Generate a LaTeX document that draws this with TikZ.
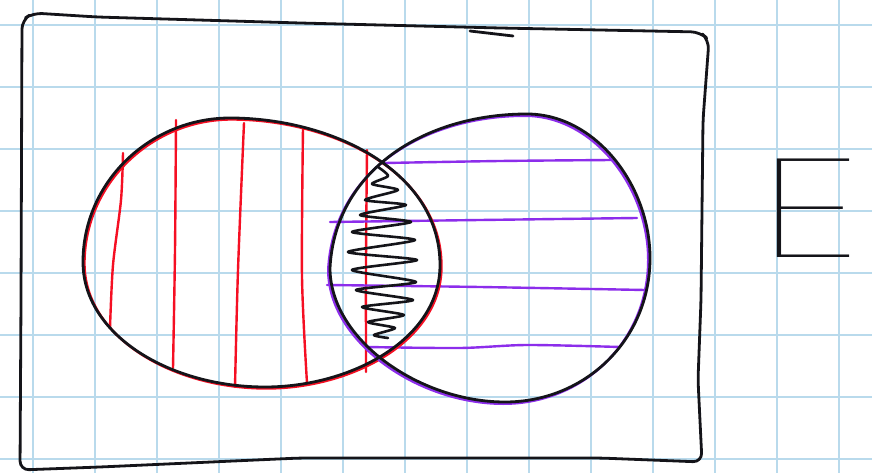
\documentclass[tikz,border=0pt]{standalone}
\usepackage{fontspec}
\newfontfamily\efont{Poppins Thin}
\definecolor{gridblue}{RGB}{185,218,236}
\definecolor{penred}{RGB}{245,15,35}
\definecolor{penpurple}{RGB}{140,45,235}
\definecolor{ink}{RGB}{20,20,25}
\tikzset{
  gridline/.style={draw=gridblue, line width=2.6pt},
  inkline/.style={draw=ink, line width=2.8pt},
  redpen/.style={draw=penred, line width=2.4pt},
  purplepen/.style={draw=penpurple, line width=2.4pt},
  zig/.style={draw=ink, line width=2.6pt},
  label/.style={font=\efont\fontsize{140}{140}\selectfont, text=ink, inner sep=0pt, xscale=1.5}
}
\newcommand{\setA}{(83,262) .. controls (83,182) and (150,118) .. (230,118)
  .. controls (330,118) and (440,170) .. (440,265)
  .. controls (440,340) and (350,387) .. (265,387)
  .. controls (170,387) and (83,335) .. cycle}
\newcommand{\setB}{(330,268) .. controls (335,170) and (425,114) .. (527,114)
  .. controls (595,114) and (650,185) .. (650,258)
  .. controls (650,340) and (585,402) .. (505,402)
  .. controls (420,402) and (330,340) .. cycle}
\begin{document}
\begin{tikzpicture}[x=1pt,y=-1pt,line cap=round,line join=round]
\fill[white] (0,0) rectangle (872,473);
\useasboundingbox (0,0) rectangle (872,473);
% grid paper
\foreach \gx in {33,95,...,839} \draw[gridline] (\gx,0) -- (\gx,473);
\foreach \gy in {25,87,...,459} \draw[gridline] (0,\gy) -- (872,\gy);
% red hatching (set A)
\draw[redpen] plot[smooth] coordinates {(123,153) (121,200) (113,265) (110,328)};
\draw[redpen] plot[smooth] coordinates {(176,120) (175,250) (173,368)};
\draw[redpen] plot[smooth] coordinates {(244,123) (238,270) (235,387)};
\draw[redpen] plot[smooth] coordinates {(303,128) (302,277) (307,383)};
\draw[redpen] plot[smooth] coordinates {(367,150) (366,260) (366,372)};
% purple hatching (set B)
\draw[purplepen] plot[smooth] coordinates {(385,163) (500,161) (612,160)};
\draw[purplepen] plot[smooth] coordinates {(330,222) (480,220) (637,218)};
\draw[purplepen] plot[smooth] coordinates {(327,285) (480,287) (645,290)};
\draw[purplepen] plot[smooth] coordinates {(367,347) (460,348) (527,345) (620,347)};
% coloured traces of the outlines
\draw[redpen,shift={(1.5,1.5)}] \setA;
\draw[purplepen,shift={(-1.8,1.8)}] \setB;
% black outlines
\draw[inkline] \setA;
\draw[inkline] \setB;
% zigzag in the intersection
\draw[zig] plot[smooth,tension=0.4] coordinates {(378,167) (388,176) (372,184) (398,190) (365,200) (406,205) (360,215) (411,222) (352,232) (415,240) (348,252) (417,260) (352,270) (416,282) (356,290) (413,300) (362,307) (404,315) (368,322) (395,328) (374,335) (388,338)};
% universal set frame
\draw[inkline,rounded corners=9pt] (21,300) -- (22,20) -- (33,13) -- (97,17) -- (300,23) -- (500,28) -- (700,32) -- (709,40) -- (703,120) -- (701,300) -- (698,380) -- (702,462) -- (600,458) -- (300,458) -- (100,467) -- (20,470) -- cycle;
\draw[inkline] (470,31) -- (513,36);
% label
\node[label,anchor=base] (E) at (810,257) {E};
\end{tikzpicture}
\end{document}
